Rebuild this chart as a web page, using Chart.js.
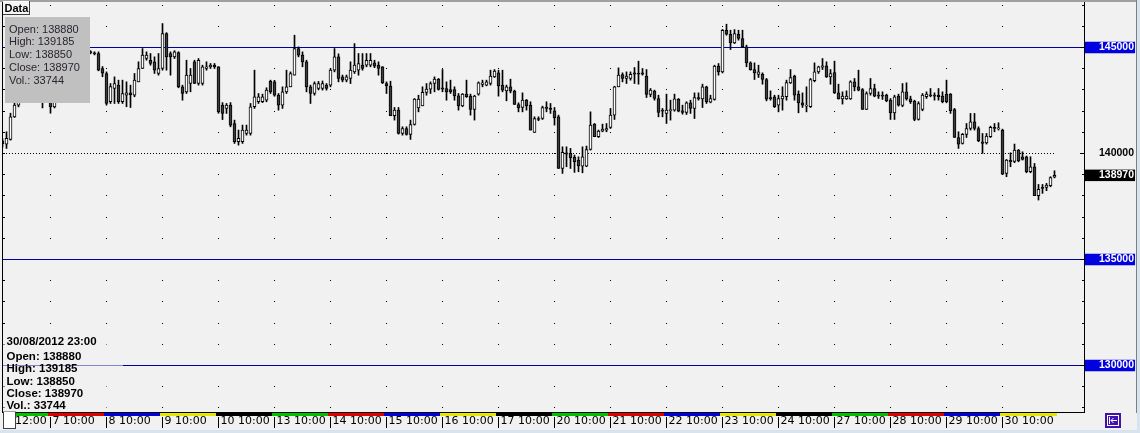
<!DOCTYPE html>
<html>
<head>
<meta charset="utf-8">
<script src="https://cdn.jsdelivr.net/npm/chart.js"></script>
<style>
  html, body { margin: 0; padding: 0; background: #f1f1f1; overflow: hidden; }
  canvas { display: block; }
</style>
</head>
<body>
<canvas id="chart" width="1140" height="433"></canvas>
<script>
// hourly candles, 6 Aug 2012 12:00 .. 30 Aug 2012 23:00 (one row per trading day)
var opens = [
  140600,140445,140665,141730,142280,142900,143400,143100,143300,142800,142600,142500,
  142650,142200,142900,143500,143800,144200,144000,144400,144600,144500,144800,144750,144715,144010,
  143775,142440,143065,143225,142440,142750,142860,142750,143380,144010,144480,144400,144325,143775,
  144010,145660,144715,144560,144765,143145,142910,143300,144325,143300,143300,144010,144090,144165,
  144090,142280,142125,142280,141415,140555,140555,140945,140945,142205,142440,142440,142515,143410,
  143380,142750,142280,142910,143145,143695,144950,144640,144325,143145,142830,143065,143065,143225,
  143225,143930,144560,143615,143460,143540,143850,143930,144165,144165,144165,144275,144165,144090,
  143300,143175,141780,142045,140945,141180,140900,141370,142155,142250,142880,143035,143300,143505,
  143100,143065,143020,143020,142720,142250,142800,142705,142075,142800,143255,143225,143300,143615,
  143805,143225,142955,143145,142940,142310,142170,142515,142280,140995,141650,141650,142170,142125,
  142015,141730,139295,140035,140005,139815,139690,139405,139405,140190,141385,140790,141055,141105,
  141230,141810,143145,143725,143540,143540,143805,143775,143805,143650,142785,142940,142595,142045,
  141890,142015,142045,142550,142015,141935,142390,142125,142640,142580,143145,142420,142550,144120,
  143850,145815,145625,145220,145625,145425,145030,144275,143960,143725,143740,143490,142640,142675,
  142280,142580,142675,143335,143650,142800,142390,142235,142205,143430,143850,144070,144135,143615,
  143820,142860,142580,142580,142580,143380,143145,143020,142075,142830,143065,142750,142750,142750,
  142515,141920,142705,142265,142910,142580,142470,141605,142075,142675,142770,142750,142750,142705,
  142800,142800,142075,140755,140475,140900,141180,141495,141180,140555,140505,140790,141230,141165,
  141105,139060,139675,139625,140160,139845,139845,139140,139375,138010,138400,138400,138480,138880
];
var highs = [
  140700,141025,141900,142500,142950,143500,143550,143400,143350,142900,142700,142800,
  142750,142950,143550,143900,144300,144250,144450,144650,144700,144850,144850,144800,144795,144100,
  143850,143300,143615,143460,143460,143380,143225,143775,144325,144950,144795,144715,144560,144715,
  146130,145700,144795,144850,144800,143225,144400,144010,144400,144480,144165,144325,144245,144245,
  144100,142400,142360,142400,141575,141105,141340,141340,142360,143930,142830,142800,143100,143460,
  143450,142830,143145,143930,143850,145580,145030,144795,144400,143225,143380,143400,143420,143300,
  144010,144950,144700,143700,143700,144325,145185,144715,144715,144715,144715,144400,144325,144100,
  143380,143410,142170,142170,141260,141260,141575,142595,142750,143145,143300,143380,143615,143540,
  143960,143380,143460,143145,142830,142830,143460,142800,142750,143380,143460,143460,143930,143960,
  143930,143930,143225,143505,142990,142390,142860,142550,142440,141730,141730,142235,142440,142360,
  142170,141810,140315,140315,140240,139925,139845,140315,140350,141965,141415,141105,141385,141415,
  142125,143175,144040,143805,143850,143850,144055,144355,144010,143960,143065,142990,142750,142125,
  142800,142515,142800,142595,142280,142440,142515,142860,142860,143270,143175,142750,144165,144245,
  145850,146100,145815,145845,145815,145815,145110,144325,144275,144165,143805,143540,142955,142750,
  142750,143145,143460,143960,143695,142955,142860,143145,143540,144275,144120,144480,144325,143960,
  144355,143270,142910,142955,143430,143540,143930,143065,142910,143540,143270,142910,142910,142800,
  142595,142750,142800,143300,143335,142705,142515,142440,142830,142910,143065,142860,143065,142910,
  143460,142830,142125,141025,140945,141415,141890,141890,141260,140945,140945,141290,141415,141450,
  141150,139720,140035,140445,140190,140080,139880,139845,139530,138540,138540,138590,138905,139185
];
var lows = [
  140300,140240,140630,141700,142200,142800,143000,142950,142700,142450,142150,142450,
  141900,142150,142850,143400,143700,143900,143950,144300,144400,144450,144700,144650,143900,143620,
  142280,142360,142360,142360,142360,142205,142170,142675,143380,144010,144400,144165,143775,143695,
  143930,143930,143695,144480,143100,142515,142830,142910,143300,143225,143225,143930,144010,144010,
  141900,141600,141890,141260,140475,140395,140475,140865,140865,142125,142360,142400,142440,142830,
  142700,142045,142125,142830,143145,143695,144560,144090,142910,142360,142750,143000,142990,142990,
  143145,143850,143380,143380,143380,143300,143775,143695,143930,144090,144090,144050,143695,143300,
  142830,141780,141575,140915,140865,140865,140665,141340,141965,142250,142750,142830,142910,142990,
  142910,142515,142830,142515,142045,142205,142645,141810,141575,142750,143145,143190,143225,143585,
  142705,142910,142485,142860,142310,141965,141965,142045,141105,140995,141545,141605,141965,141890,
  141340,139295,139060,139375,139295,139110,139140,139090,139375,140160,140790,140755,141025,141025,
  141180,141605,143145,143380,143300,143460,143300,143270,143695,142640,142675,142515,141730,141730,
  141415,141575,141995,141965,141855,141840,141890,141650,142515,142170,142360,142390,142515,143695,
  143800,145580,144905,145185,145345,145000,144090,143930,143490,143585,143270,142485,142515,142170,
  141965,142045,142515,143300,142515,141920,142170,141965,142170,143380,143775,143960,143585,143270,
  142830,142565,142330,142550,142550,142955,142955,142075,142075,142750,142675,142595,142550,142440,
  141605,141605,142235,142205,142515,142360,141545,141575,142015,142595,142675,142515,142515,142390,
  142390,141890,140755,140240,140445,140755,141105,141105,140555,140005,140445,140755,141025,141105,
  139000,138905,139375,139565,139610,139690,139090,139090,138010,137805,138120,138245,138430,138850
];
var closes = [
  140450,140710,141730,142280,142900,143400,143100,143300,142800,142600,142500,142700,
  142200,142900,143500,143800,144200,144000,144400,144600,144500,144800,144760,144700,143930,143790,
  142360,143160,143300,142440,142830,142860,142780,143460,144010,144640,144640,144245,143930,144010,
  145660,144560,144560,144795,143145,142830,143695,143695,143300,144400,144090,144090,144165,144090,
  141965,141890,142280,141340,140555,140710,141105,141105,142205,142675,142675,142675,142990,142910,
  142750,142280,142910,143145,143775,144950,144640,144325,143145,142830,143300,143300,143300,143065,
  143930,144560,143540,143460,143615,143930,144165,144245,144010,144400,144400,144120,144010,143335,
  143190,141780,142045,140945,141180,140900,141370,142565,142565,142880,143035,143300,143505,143020,
  143035,142910,142910,142720,142250,142800,142675,142075,142705,143335,143335,143380,143650,143885,
  143190,142990,143145,142940,142310,142155,142515,142250,141105,141650,141605,142170,142125,142075,
  141685,139295,140050,139970,139800,139610,139420,139845,140190,141340,140790,141055,141150,141180,
  141810,143145,143695,143540,143650,143740,143740,143740,143740,142785,142990,142595,141935,141995,
  142045,142075,142580,141995,141935,142390,142125,142640,142580,143145,142440,142595,144120,143850,
  145815,145625,145220,145660,145425,145030,144275,143960,143805,143850,143490,142565,142580,142205,
  142595,142705,143350,143585,142750,142390,142280,142280,143490,143850,144090,144135,143615,143775,
  142860,142580,142705,142705,143380,143145,142990,142075,142830,143065,142705,142705,142705,142485,
  141920,142675,142280,142910,142580,142440,141605,142360,142750,142800,142720,142705,142675,142440,
  142440,142015,140755,140445,140900,141180,141495,141180,140600,140475,140820,141230,141180,141210,
  139030,139690,139610,140160,139655,139720,139140,139375,138010,138305,138355,138510,138870,138970
];
var volumeLast = 33744;
var lastStamp = '30/08/2012 23:00';

var dayLabels = ['6 12:00','7 10:00','8 10:00','9 10:00','10 10:00','13 10:00','14 10:00','15 10:00','16 10:00',
                 '17 10:00','20 10:00','21 10:00','22 10:00','23 10:00','24 10:00','27 10:00','28 10:00','29 10:00','30 10:00'];
var dayOfMonth = [6,7,8,9,10,13,14,15,16,17,20,21,22,23,24,27,28,29,30];
var dayFirstBar = [0,12,26,40,54,68,82,96,110,124,138,152,166,180,194,208,222,236,250];

var alertLevels = [145000, 135000, 130000];
var refLevel = 140000;
var axisLevels = [130000, 135000, 140000, 145000];

var lastIdx = closes.length - 1;
var lastClose = closes[lastIdx];
var weekdayColors = { 1: '#00c000', 2: '#e00000', 3: '#0000e0', 4: '#e6e600', 5: '#000000' };

var bodies = [], wicks = [];
for (var i = 0; i < closes.length; i++) {
  bodies.push({ x: i, y: [opens[i], closes[i]] });
  wicks.push({ x: i, y: [lows[i], highs[i]] });
}

// right axis label placement: text ends at 1134, box spans 1085..1135
var yFont = { family: 'Liberation Sans', size: 10.5, weight: 'bold', lineHeight: 1 };
var mctx = document.createElement('canvas').getContext('2d');
mctx.font = 'bold 10.5px "Liberation Sans"';
var labelW = mctx.measureText('145000').width;
var yPad = Math.round(1134 - 1084 - labelW);

function noPad(s) {
  s.paddingTop = 0; s.paddingBottom = 0; s.paddingLeft = 0; s.paddingRight = 0;
}

var decor = {
  id: 'decor',
  beforeDatasetsDraw: function(chart) {
    var ctx = chart.ctx, xs = chart.scales.x, ys = chart.scales.y, a = chart.chartArea;
    ctx.save();
    // grid dots at every 1000 for each day start
    ctx.fillStyle = '#000';
    for (var v = 128000; v <= 147000; v += 1000) {
      var py = Math.floor(ys.getPixelForValue(v));
      for (var d = 1; d < dayFirstBar.length; d++) {
        ctx.fillRect(Math.floor(xs.getPixelForValue(dayFirstBar[d])), py, 1, 1);
      }
      ctx.fillRect(a.left, py, 2, 1);
    }
    // dotted reference level
    var ry = Math.floor(ys.getPixelForValue(refLevel));
    var xEnd = xs.getPixelForValue(lastIdx) + 1;
    for (var x = a.left; x < xEnd; x += 3) ctx.fillRect(x, ry, 1, 1);
    // alert lines
    ctx.fillStyle = '#0000a8';
    alertLevels.forEach(function(lv) {
      ctx.fillRect(a.left, Math.floor(ys.getPixelForValue(lv)), a.right - a.left, 1);
    });
    ctx.restore();
  },
  afterDraw: function(chart) {
    var ctx = chart.ctx, xs = chart.scales.x, ys = chart.scales.y, a = chart.chartArea;
    ctx.save();
    // window edges
    ctx.fillStyle = '#a0a0a0';
    ctx.fillRect(0, 0, 1137, 2);
    ctx.fillStyle = '#808080';
    ctx.fillRect(1136, 0, 1, 413);
    ctx.fillStyle = '#d8e3f0';
    ctx.fillRect(0, 430, 1140, 3);
    ctx.fillRect(1137, 0, 3, 433);
    // frame
    ctx.fillStyle = '#000';
    ctx.fillRect(a.left - 1, 2, 1, a.bottom - 1);
    ctx.fillRect(a.left - 1, a.bottom, a.right - a.left + 2, 1);
    ctx.fillRect(a.right, 2, 1, a.bottom - 1);
    // right axis tick marks
    for (var v = 128000; v <= 147000; v += 1000) {
      var py = Math.floor(ys.getPixelForValue(v));
      var long = axisLevels.indexOf(v) >= 0;
      ctx.fillRect(a.right - (long ? 4 : 2), py, long ? 4 : 2, 1);
    }
    // weekday colour strips and day separators
    for (var d = 0; d < dayFirstBar.length; d++) {
      var x0 = xs.getPixelForValue(dayFirstBar[d]) - 2.5;
      var x1 = d < dayFirstBar.length - 1 ? xs.getPixelForValue(dayFirstBar[d + 1]) - 2.5 : xs.getPixelForValue(lastIdx) + 2.5;
      x0 = Math.max(x0, a.left);
      var wd = new Date(2012, 7, dayOfMonth[d]).getDay();
      ctx.fillStyle = weekdayColors[wd];
      ctx.fillRect(x0, a.bottom + 1, x1 - x0, 3);
      if (d > 0) {
        ctx.fillStyle = '#000';
        ctx.fillRect(Math.floor(xs.getPixelForValue(dayFirstBar[d])), a.bottom + 5, 1, 11);
      }
    }
    // small white box at bottom left
    ctx.fillStyle = '#ffffff';
    ctx.fillRect(3, 411, 13, 18);
    ctx.strokeStyle = '#404040';
    ctx.lineWidth = 1;
    ctx.strokeRect(3.5, 411.5, 12, 17);
    // icon bottom right
    ctx.fillStyle = '#4012b0';
    ctx.fillRect(1105, 413, 16, 15);
    ctx.strokeStyle = '#ffffff';
    ctx.strokeRect(1107.5, 415.5, 11, 10);
    ctx.beginPath();
    ctx.moveTo(1109.5, 417); ctx.lineTo(1109.5, 424);
    ctx.moveTo(1111, 420.5); ctx.lineTo(1117, 420.5);
    ctx.moveTo(1113.5, 418); ctx.lineTo(1111, 420.5); ctx.lineTo(1113.5, 423);
    ctx.stroke();

    // info block bottom left
    ctx.fillStyle = 'rgba(241,241,241,0.55)';
    ctx.fillRect(3, 334, 120, 78);
    ctx.fillStyle = '#000';
    ctx.font = 'bold 11.5px "Liberation Sans", Arial, sans-serif';
    ctx.textBaseline = 'middle';
    ctx.textAlign = 'left';
    var info = [lastStamp, 'Open: ' + opens[lastIdx], 'High: ' + highs[lastIdx], 'Low: ' + lows[lastIdx],
                'Close: ' + closes[lastIdx], 'Vol.: ' + volumeLast];
    var infoY = [341.5, 356.5, 369, 381.5, 393.5, 405.5];
    info.forEach(function(t, k) { ctx.fillText(t, 6.5, infoY[k]); });

    // data window top left
    ctx.fillStyle = '#c0c0c0';
    ctx.fillRect(5, 17, 85, 86);
    ctx.fillStyle = '#2b2430';
    ctx.font = '11px "Liberation Sans", Arial, sans-serif';
    var box = info.slice(1);
    box.forEach(function(t, k) { ctx.fillText(t, 9, 29.5 + k * 12.8); });

    // "Data" tab
    ctx.fillStyle = '#f4f4f4';
    ctx.fillRect(3, 1, 27, 14);
    ctx.fillStyle = '#404040';
    ctx.fillRect(29, 1, 1, 14);
    ctx.fillRect(3, 14, 27, 1);
    ctx.fillStyle = '#ffffff';
    ctx.fillRect(3, 1, 26, 1);
    ctx.fillStyle = '#000';
    ctx.font = 'bold 11px "Liberation Sans", Arial, sans-serif';
    ctx.fillText('Data', 4.5, 8.5);
    ctx.restore();
  }
};

new Chart(document.getElementById('chart'), {
  type: 'bar',
  data: {
    datasets: [
      {
        label: 'body',
        data: bodies,
        barThickness: 3,
        borderWidth: 1,
        borderColor: '#000',
        borderSkipped: false,
        minBarLength: 1,
        grouped: false,
        backgroundColor: function(c) {
          var k = c.dataIndex;
          return closes[k] >= opens[k] ? '#ffffff' : '#3c3c3c';
        }
      },
      {
        label: 'wick',
        data: wicks,
        barThickness: 1,
        borderWidth: 0,
        grouped: false,
        backgroundColor: '#000'
      }
    ]
  },
  options: {
    responsive: false,
    animation: false,
    events: [],
    devicePixelRatio: 1,
    layout: { padding: { left: 3, top: 3, right: 3, bottom: 0 } },
    plugins: { legend: { display: false }, tooltip: { enabled: false } },
    scales: {
      x: {
        type: 'linear',
        min: 0.125,
        max: 270.375,
        offset: false,
        bounds: 'data',
        afterBuildTicks: function(s) { s.ticks = dayFirstBar.map(function(v) { return { value: v }; }); },
        afterFit: function(s) { s.height = 21; noPad(s); },
        grid: { display: false, drawTicks: false },
        border: { display: false },
        ticks: {
          autoSkip: false,
          maxRotation: 0,
          align: 'start',
          labelOffset: 2,
          padding: 3,
          color: '#000',
          font: { family: 'DejaVu Sans', size: 11 },
          callback: function(v, idx) { return dayLabels[idx]; }
        }
      },
      y: {
        type: 'linear',
        position: 'right',
        min: 127807,
        max: 147099,
        bounds: 'data',
        afterBuildTicks: function(s) {
          s.ticks = axisLevels.concat([lastClose]).map(function(v) { return { value: v }; });
        },
        afterFit: function(s) { s.width = 53; noPad(s); },
        grid: { display: false, drawTicks: false },
        border: { display: false },
        ticks: {
          autoSkip: false,
          crossAlign: 'near',
          padding: yPad,
          font: yFont,
          showLabelBackdrop: true,
          backdropPadding: { left: yPad - 1, right: 1, top: 0.5, bottom: 0.5 },
          backdropColor: function(c) {
            var v = c.tick.value;
            if (v === lastClose) return '#000000';
            return alertLevels.indexOf(v) >= 0 ? '#0000e0' : 'rgba(0,0,0,0)';
          },
          color: function(c) { return c.tick.value === refLevel ? '#000000' : '#ffffff'; },
          callback: function(v) { return String(v); }
        }
      }
    }
  },
  plugins: [decor]
});
</script>
</body>
</html>
